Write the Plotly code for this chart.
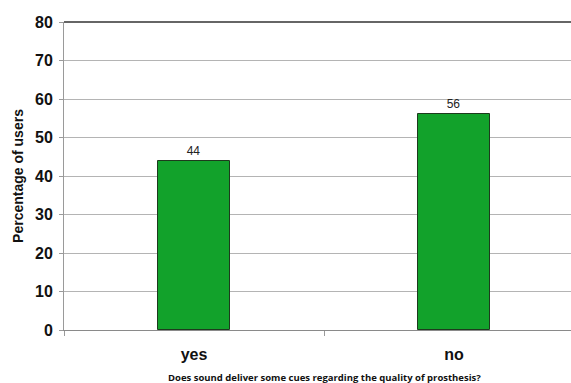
import plotly.graph_objects as go

# Survey answers and share of users giving each answer
categories = ["yes", "no"]
percentages = [44, 56]
y_ticks = [0, 10, 20, 30, 40, 50, 60, 70, 80]
question = "Does sound deliver some cues regarding the quality of prosthesis?"

positions = list(range(len(categories)))

fig = go.Figure(
    go.Bar(
        x=positions,
        y=percentages,
        width=0.28,
        marker=dict(color="#12a22b", line=dict(color="#1d3a1d", width=1)),
        text=[str(v) for v in percentages],
        textposition="outside",
        textfont=dict(family="Liberation Sans, Arial", size=12, color="#222"),
        cliponaxis=False,
    )
)

fig.update_layout(
    width=571,
    height=383,
    margin=dict(l=64, r=0, t=22, b=53),
    paper_bgcolor="white",
    plot_bgcolor="white",
    showlegend=False,
    bargap=0,
)

fig.update_xaxes(
    range=[-0.5, 1.45],
    tickmode="array",
    tickvals=positions,
    ticktext=categories,
    tickfont=dict(family="Liberation Sans, Arial", size=16, color="#111", weight="bold"),
    ticks="",
    ticklabelstandoff=10,
    showgrid=False,
    showline=True,
    linecolor="#8a8a8a",
    linewidth=1,
    zeroline=False,
    minor=dict(tickvals=[-0.5, 0.5, 1.5], ticks="outside", ticklen=5, tickcolor="#9a9a9a"),
    fixedrange=True,
)

fig.update_yaxes(
    range=[0, 80],
    tickmode="array",
    tickvals=y_ticks,
    tickfont=dict(family="Liberation Sans, Arial", size=16, color="#111", weight="bold"),
    ticks="outside",
    ticklen=4,
    tickcolor="#9a9a9a",
    ticklabelstandoff=3,
    showgrid=True,
    gridcolor="#b4b4b4",
    gridwidth=1,
    showline=True,
    linecolor="#9a9a9a",
    linewidth=1,
    zeroline=False,
    title=dict(
        text="Percentage of users",
        font=dict(family="Liberation Sans, Arial", size=14, color="#111", weight="bold"),
        standoff=8,
    ),
    fixedrange=True,
)

# Question text, centred under the midpoint between the two answer groups
fig.add_annotation(
    text=question,
    x=0.5, xref="x",
    y=-47 / 308, yref="paper", yanchor="middle",
    showarrow=False,
    font=dict(family="Open Sans, Liberation Sans", size=9.5, color="#111", weight="bold"),
)

# Dark frame line along the top of the plotting area
fig.add_shape(
    type="line", xref="paper", yref="paper", x0=0, x1=1, y0=1, y1=1,
    line=dict(color="#333333", width=1.5),
)

fig.write_html("out.html")
